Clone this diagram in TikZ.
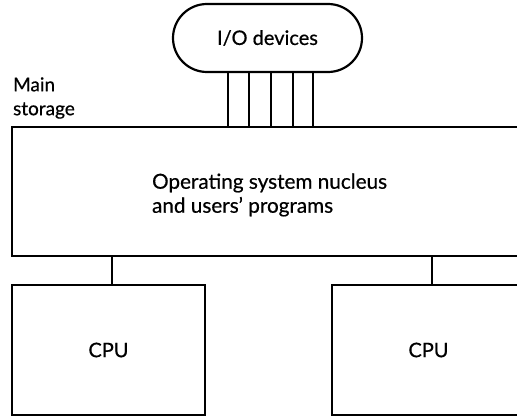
\documentclass[tikz,border=0pt]{standalone}
\usepackage{fontspec}
\setmainfont{Lato}[FakeBold=0.6]
\begin{document}
\begin{tikzpicture}[x=1pt,y=-1pt,
  line width=2.2pt,
  box/.style={draw,line width=2.2pt,inner sep=0pt,minimum width=193pt,minimum height=130pt},
  lbl/.style={font=\fontsize{20}{24}\selectfont,inner sep=0pt},
  bus/.style={line width=2.2pt}]
\useasboundingbox (0,0) rectangle (517,417);
\clip (0,0) rectangle (517,417);
% I/O devices pill
\node[draw,rounded corners=34pt,minimum width=189pt,minimum height=68pt,inner sep=0pt,lbl]
  (io) at (267.5,38) {I/O devices};
% main storage box (right side runs off the page)
\node[draw,inner sep=0pt,minimum width=518pt,minimum height=129pt] (main) at (271,191.5) {};
\node[lbl,align=left,anchor=west,font=\fontsize{20.7}{24}\selectfont] (ostext) at (151,195)
  {Operating system nucleus\\and users’ programs};
\node[lbl,align=left,anchor=west,font=\fontsize{19}{24}\selectfont] (mslabel) at (12,98)
  {Main\\storage};
% CPUs
\node[box,lbl] (cpuA) at (108.5,350) {CPU};
\node[box,lbl] (cpuB) at (428.5,350) {CPU};
% connectors
\foreach \x in {228,249,271,293,313}
  \draw[bus] (\x,0 |- io.south) -- (\x,0 |- main.north);
\draw[bus] (112,0 |- main.south) -- (112,0 |- cpuA.north);
\draw[bus] (432,0 |- main.south) -- (432,0 |- cpuB.north);
\end{tikzpicture}
\end{document}
